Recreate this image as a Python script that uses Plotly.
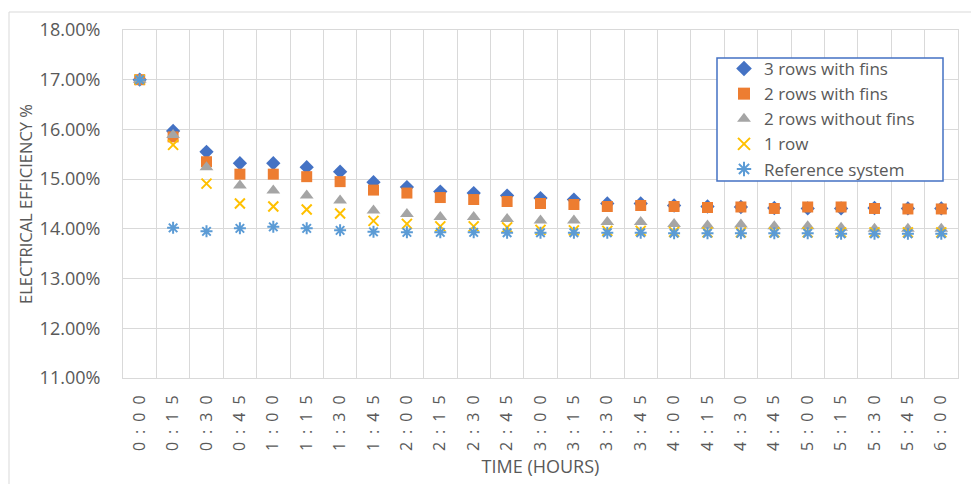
import plotly.graph_objects as go

# Time axis (hours:minutes)
times = ["0:00", "0:15", "0:30", "0:45", "1:00", "1:15", "1:30", "1:45", "2:00",
         "2:15", "2:30", "2:45", "3:00", "3:15", "3:30", "3:45", "4:00", "4:15",
         "4:30", "4:45", "5:00", "5:15", "5:30", "5:45", "6:00"]

# Electrical efficiency (%) of each configuration
three_rows_fins = [17.00, 15.97, 15.55, 15.32, 15.32, 15.24, 15.15, 14.94, 14.84,
                   14.75, 14.72, 14.67, 14.62, 14.59, 14.51, 14.51, 14.47, 14.45,
                   14.44, 14.42, 14.41, 14.41, 14.42, 14.41, 14.41]
two_rows_fins = [17.00, 15.85, 15.35, 15.10, 15.10, 15.05, 14.95, 14.78, 14.72,
                 14.63, 14.59, 14.55, 14.51, 14.49, 14.45, 14.47, 14.45, 14.43,
                 14.44, 14.41, 14.44, 14.44, 14.41, 14.40, 14.40]
two_rows_no_fins = [17.00, 15.89, 15.24, 14.87, 14.77, 14.67, 14.57, 14.37, 14.30,
                    14.24, 14.24, 14.20, 14.17, 14.17, 14.14, 14.14, 14.10, 14.07,
                    14.09, 14.05, 14.05, 14.02, 14.00, 14.00, 14.00]
one_row = [17.00, 15.69, 14.91, 14.51, 14.45, 14.39, 14.31, 14.16, 14.10,
           14.05, 14.05, 14.03, 13.98, 13.97, 13.96, 13.96, 13.94, 13.93,
           13.93, 13.93, 13.93, 13.93, 13.93, 13.93, 13.93]
reference_system = [17.00, 14.02, 13.95, 14.01, 14.04, 14.01, 13.97, 13.94, 13.93,
                    13.93, 13.93, 13.92, 13.92, 13.92, 13.92, 13.92, 13.91, 13.91,
                    13.91, 13.91, 13.91, 13.90, 13.90, 13.90, 13.90]

y_ticks = [11, 12, 13, 14, 15, 16, 17, 18]

FONT = "Open Sans"
TEXT = "#595959"
GRID = "#D9D9D9"

# plot area in pixels: x 123..958, y 30..378
PX_L, PX_R, PX_T, PX_B = 123, 958, 30, 378


def px_to_paper(px, py):
    return (px - PX_L) / (PX_R - PX_L), (PX_B - py) / (PX_B - PX_T)


# Rotated category labels are drawn letter-spaced
x_labels = ["\u2002".join(t) for t in times]

fig = go.Figure()

series = [
    ("3 rows with fins", three_rows_fins, dict(symbol="diamond", size=11, color="#4472C4")),
    ("2 rows with fins", two_rows_fins, dict(symbol="square", size=11, color="#ED7D31")),
    ("2 rows without fins", two_rows_no_fins, dict(symbol="triangle-up", size=12, color="#A5A5A5")),
    ("1 row", one_row, dict(symbol="x-thin-open", size=10, color="#FFC000",
                            line=dict(color="#FFC000", width=2))),
    ("Reference system", reference_system, dict(symbol="asterisk-open", size=10, color="#5B9BD5",
                                                line=dict(color="#5B9BD5", width=2))),
]

for name, vals, marker in series:
    fig.add_trace(go.Scatter(x=times, y=vals, name=name, mode="markers", marker=marker))

leg_x, leg_y = px_to_paper(724, 51)

fig.update_layout(
    width=971, height=484,
    margin=dict(l=PX_L, r=971 - PX_R, t=PX_T, b=484 - PX_B),
    paper_bgcolor="white", plot_bgcolor="white",
    font=dict(family=FONT, color=TEXT),
    showlegend=True,
    legend=dict(
        x=leg_x, y=leg_y, xanchor="left", yanchor="top",
        borderwidth=0, bgcolor="rgba(0,0,0,0)",
        font=dict(family=FONT, size=17, color=TEXT),
        itemsizing="constant", tracegroupgap=0,
    ),
    xaxis=dict(
        type="category", automargin=False,
        range=[-0.5, len(times) - 0.5],
        tickmode="array", tickvals=times, ticktext=x_labels,
        tickangle=-90,
        tickson="boundaries", ticks="",
        showgrid=True, gridcolor=GRID, gridwidth=1,
        showline=True, linecolor=GRID, mirror=True,
        tickfont=dict(family=FONT, size=16, color=TEXT),
        ticklabelstandoff=10,
        title=dict(text="TIME (HOURS)", font=dict(family=FONT, size=18, color=TEXT), standoff=10),
    ),
    yaxis=dict(
        range=[11, 18], automargin=False,
        tickmode="array", tickvals=y_ticks,
        ticktext=[f"{v:.2f}%" for v in y_ticks],
        showgrid=True, gridcolor=GRID, gridwidth=1,
        showline=True, linecolor=GRID, mirror=True,
        zeroline=False, ticks="",
        tickfont=dict(family=FONT, size=18, color=TEXT),
        ticklabelstandoff=18,
        title=dict(text="ELECTRICAL EFFICIENCY %", font=dict(family=FONT, size=16.5, color=TEXT), standoff=2),
    ),
)

# Outer chart frame
fx0, fy0 = px_to_paper(9, 495)
fx1, fy1 = px_to_paper(980, 12)
fig.add_shape(type="rect", xref="paper", yref="paper",
              x0=fx0, x1=fx1, y0=fy0, y1=fy1,
              line=dict(color=GRID, width=1), fillcolor="rgba(0,0,0,0)", layer="below")

# Legend box
lx0, ly0 = px_to_paper(717, 181)
lx1, ly1 = px_to_paper(943, 58)
fig.add_shape(type="rect", xref="paper", yref="paper",
              x0=lx0, x1=lx1, y0=ly0, y1=ly1,
              line=dict(color="#4472C4", width=1.5), fillcolor="white", layer="above")

fig.write_html("out.html")
